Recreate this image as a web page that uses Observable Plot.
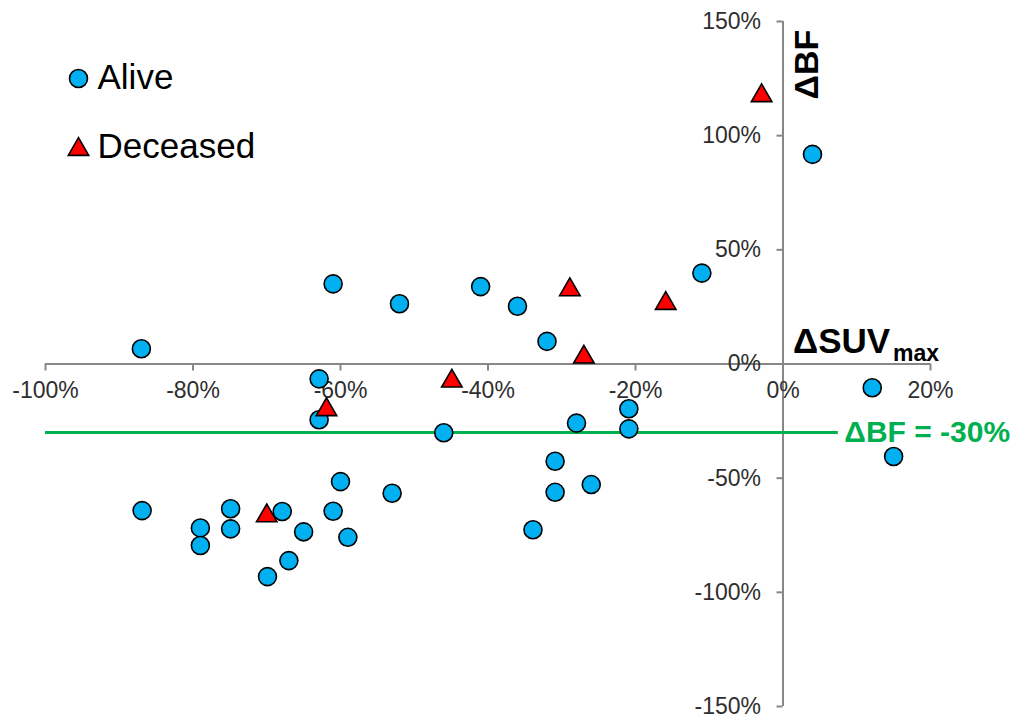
<!DOCTYPE html>
<html>
<head>
<meta charset="utf-8">
<script src="https://cdn.jsdelivr.net/npm/d3@7"></script>
<script src="https://cdn.jsdelivr.net/npm/@observablehq/plot@0.6"></script>
<style>
  html, body { margin: 0; padding: 0; background: #fff; }
  #chart svg { display: block; background: #fff; overflow: visible; }
</style>
</head>
<body>
<div id="chart"></div>
<script>
// ---- Data (percent values) ----
const aliveX = [-87.0, -61.0, -52.0, -41.0, -36.0, -32.0, -11.0, 4.0, 12.1, 15.0,
  -62.9, -62.9, -46.0, -28.0, -20.9, -20.9, -30.9, -30.9, -26.0, -33.9,
  -53.0, -60.0, -61.0, -59.0, -65.0, -67.0, -69.9, -67.9, -74.9, -74.9,
  -79.0, -79.0, -86.9];
const aliveY = [6.7, 35.1, 26.4, 33.9, 25.3, 9.9, 39.8, 91.8, -10.4, -40.5,
  -6.5, -24.4, -30.1, -25.9, -19.6, -28.4, -42.6, -56.2, -52.8, -72.6,
  -56.6, -51.5, -64.5, -75.9, -73.5, -86.1, -93.1, -64.6, -63.4, -72.2,
  -71.8, -79.5, -64.2];
const deceasedX = [-2.9, -28.9, -15.9, -27.0, -44.9, -61.9, -70.0];
const deceasedY = [117.5, 32.5, 26.5, 3.0, -7.5, -20.0, -66.5];

const xTicks = [-100, -80, -60, -40, -20, 0, 20];
const yTicks = [-150, -100, -50, 0, 50, 100, 150];
const thresholdY = -30;
const thresholdX = [-100, 7.5];
const thresholdLabel = "ΔBF = -30%";
const seriesNames = ["Alive", "Deceased"];
const xTitle = "ΔSUV";
const xTitleSub = "max";
const yTitle = "ΔBF";

const alive = aliveX.map((x, i) => ({x, y: aliveY[i]}));
const deceased = deceasedX.map((x, i) => ({x, y: deceasedY[i]}));

const W = 1018, H = 721;
const mL = 45, mR = 88, mT = 21, mB = 15;
const font = "'Liberation Sans', Arial, Helvetica, sans-serif";
const axisGray = "#878787";
const labelColor = "#2e2e2e";
const blue = "#00B0F0", red = "#FF0000", green = "#00B050";
const pct = d => d + "%";

const chart = Plot.plot({
  width: W,
  height: H,
  marginLeft: mL,
  marginRight: mR,
  marginTop: mT,
  marginBottom: mB,
  style: {fontFamily: font, background: "#fff"},
  x: {domain: [-100, 20], label: null},
  y: {domain: [-150, 150], label: null},
  marks: [
    Plot.ruleY([0], {stroke: axisGray, strokeWidth: 2}),
    Plot.ruleX([0], {stroke: axisGray, strokeWidth: 2}),
    Plot.axisX({anchor: "bottom", ticks: xTicks, tickFormat: pct, tickSize: 7, tickPadding: 11,
      fontSize: 23, stroke: axisGray, strokeWidth: 2, fill: labelColor, label: null}),
    Plot.axisY({anchor: "left", ticks: yTicks, tickFormat: pct, tickSize: 6, tickPadding: 16,
      fontSize: 23, stroke: axisGray, strokeWidth: 2, fill: labelColor, label: null}),
    // threshold line
    Plot.ruleY([thresholdY], {x1: thresholdX[0], x2: thresholdX[1], stroke: green, strokeWidth: 3}),
    Plot.text([thresholdLabel], {x: thresholdX[1], y: thresholdY, dx: 6, text: d => d,
      textAnchor: "start", fill: green, fontWeight: "bold", fontSize: 30, lineAnchor: "middle"}),
    // axis titles
    Plot.text([xTitle], {x: 0, y: 0, dx: 10, dy: -11, text: d => d, textAnchor: "start",
      lineAnchor: "bottom", fontWeight: "bold", fontSize: 35, fill: "#000"}),
    Plot.text([xTitleSub], {x: 0, y: 0, dx: 110, dy: -3, text: d => d, textAnchor: "start",
      lineAnchor: "bottom", fontWeight: "bold", fontSize: 23, fill: "#000"}),
    Plot.text([yTitle], {x: 0, y: 150, dx: 35, dy: 43, text: d => d, rotate: -90,
      textAnchor: "middle", lineAnchor: "bottom", fontWeight: "bold", fontSize: 34, fill: "#000"}),
    // data
    Plot.dot(alive, {x: "x", y: "y", r: 9, fill: blue, stroke: "#000", strokeWidth: 1.6, symbol: "circle"}),
    Plot.dot(deceased, {x: "x", y: "y", r: 7.6, fill: red, stroke: "#000", strokeWidth: 1.6, symbol: "triangle"}),
    // legend
    Plot.dot([seriesNames[0]], {frameAnchor: "top-left", dx: 33, dy: 57, r: 9, fill: blue,
      stroke: "#000", strokeWidth: 1.6, symbol: "circle"}),
    Plot.dot([seriesNames[1]], {frameAnchor: "top-left", dx: 33, dy: 128, r: 7.6, fill: red,
      stroke: "#000", strokeWidth: 1.6, symbol: "triangle"}),
    Plot.text([seriesNames[0]], {frameAnchor: "top-left", dx: 52, dy: 67, text: d => d,
      textAnchor: "start", lineAnchor: "bottom", fontSize: 35, fill: "#000"}),
    Plot.text([seriesNames[1]], {frameAnchor: "top-left", dx: 52, dy: 136, text: d => d,
      textAnchor: "start", lineAnchor: "bottom", fontSize: 35, fill: "#000"})
  ]
});

// move the axes so they cross at the origin (0, 0)
const xs = chart.scale("x"), ys = chart.scale("y");
const shiftY = ys.apply(0) - (H - mB);
const shiftX = xs.apply(0) - mL;
chart.querySelectorAll('g[aria-label^="x-axis"]').forEach(g => {
  const t = g.getAttribute("transform") || "";
  g.setAttribute("transform", `translate(0,${shiftY}) ${t}`);
});
chart.querySelectorAll('g[aria-label^="y-axis"]').forEach(g => {
  const t = g.getAttribute("transform") || "";
  g.setAttribute("transform", `translate(${shiftX},0) ${t}`);
});

document.getElementById("chart").appendChild(chart);
</script>
</body>
</html>
